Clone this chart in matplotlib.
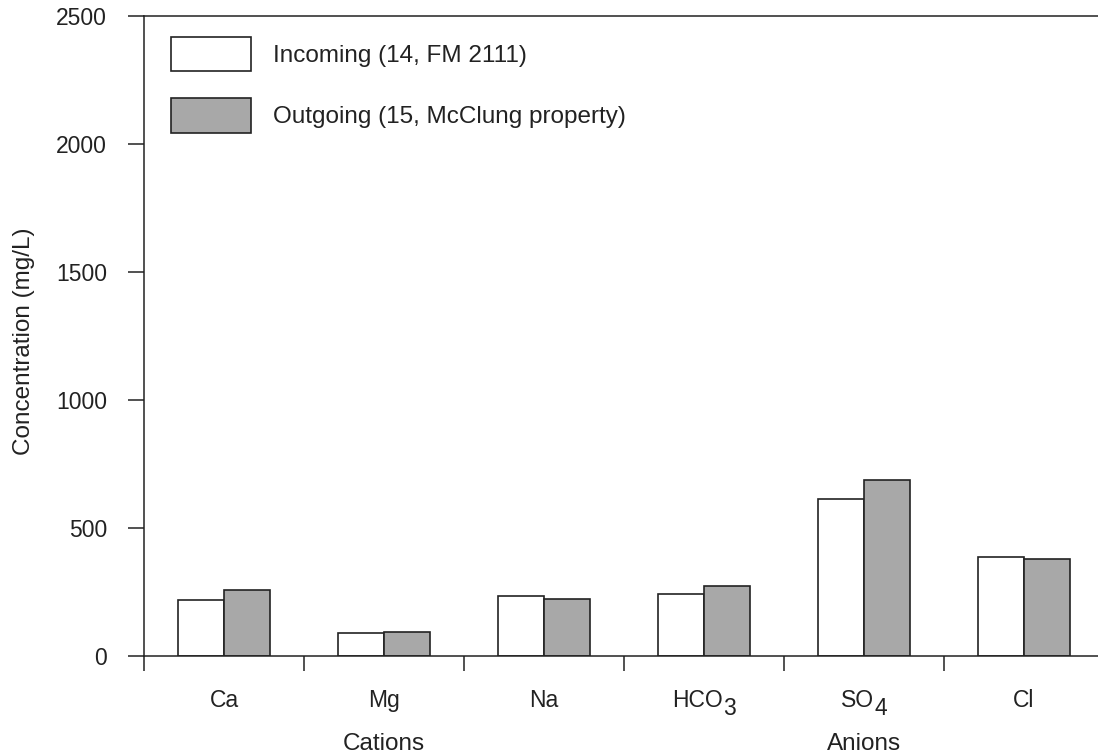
import matplotlib
matplotlib.use('Agg')
import matplotlib.pyplot as plt
from matplotlib import transforms
import numpy as np

plt.rcParams['font.family'] = ['Liberation Sans', 'DejaVu Sans']

# ion concentrations (mg/L)
IONS = ['Ca', 'Mg', 'Na', 'HCO', 'SO', 'Cl']
IONS_SUB = ['', '', '', '3', '4', '']
INCOMING = [219, 91, 234, 242, 612, 387]
OUTGOING = [258, 94, 223, 273, 689, 378]
GROUPS = ['Cations', 'Anions']
GROUP_POS = [1, 4]
LABELS = ['Incoming (14, FM 2111)', 'Outgoing (15, McClung property)']

FS = 16.5
FS_BIG = 17.5
EDGE = '#222222'
TXT = '#222222'
GREY = '#a8a8a8'
W = 0.2875

fig = plt.figure(figsize=(10.98, 7.56), dpi=100)
ax = fig.add_axes([144/1098, 100/756, 960/1098, 640/756])

x = np.arange(len(IONS))
ax.bar(x - W/2, INCOMING, W, color='white', edgecolor=EDGE, linewidth=1.2, label=LABELS[0])
ax.bar(x + W/2, OUTGOING, W, color=GREY, edgecolor=EDGE, linewidth=1.2, label=LABELS[1])

ax.set_xlim(-0.5, 5.5)
ax.set_ylim(0, 2500)
ax.set_yticks([0, 500, 1000, 1500, 2000, 2500])

ax.set_xticks(np.arange(-0.5, 5.6, 1))
ax.set_xticklabels([])
ax.tick_params(axis='x', length=11, width=1.1, color=EDGE)
ax.tick_params(axis='y', length=11.5, width=1.1, color=EDGE, labelsize=FS, pad=15,
               labelcolor=TXT)

for s in ['left', 'top', 'bottom']:
    ax.spines[s].set_linewidth(1.1)
    ax.spines[s].set_color(EDGE)
ax.spines['right'].set_visible(False)

# category labels with full-size lowered subscripts
blend = transforms.blended_transform_factory(ax.transData, ax.transAxes)
renderer = fig.canvas.get_renderer()
ybase = (656 - 707) / 640
for i, (base, sub) in enumerate(zip(IONS, IONS_SUB)):
    tb = ax.text(i, ybase, base, ha='left', va='baseline', fontsize=FS, color=TXT,
                 transform=blend)
    ts = ax.text(i, ybase, sub, ha='left', va='baseline', fontsize=FS, color=TXT,
                 transform=blend)
    wb = tb.get_window_extent(renderer).width
    ws = ts.get_window_extent(renderer).width if sub else 0
    tot = wb + ws
    tb.set_transform(transforms.offset_copy(blend, fig=fig, x=-tot/2, y=0, units='dots'))
    ts.set_transform(transforms.offset_copy(blend, fig=fig, x=-tot/2 + wb, y=-8, units='dots'))

fig_blend = transforms.blended_transform_factory(ax.transData, fig.transFigure)
for g, p in zip(GROUPS, GROUP_POS):
    ax.text(p, 0.008, g, transform=fig_blend, ha='center', va='baseline',
            fontsize=FS_BIG, color=TXT)

fig.text(0.022, 0.548, 'Concentration (mg/L)', rotation=90, ha='center', va='center',
         fontsize=FS_BIG, color=TXT)

leg = ax.legend(loc='upper left', bbox_to_anchor=(27/960, (656-37)/640), frameon=False,
                fontsize=FS_BIG, handlelength=3.3, handleheight=1.8, handletextpad=0.9,
                labelspacing=1.1, borderpad=0, borderaxespad=0)
for t in leg.get_texts():
    t.set_color(TXT)

fig.savefig('out.png', dpi=100)
